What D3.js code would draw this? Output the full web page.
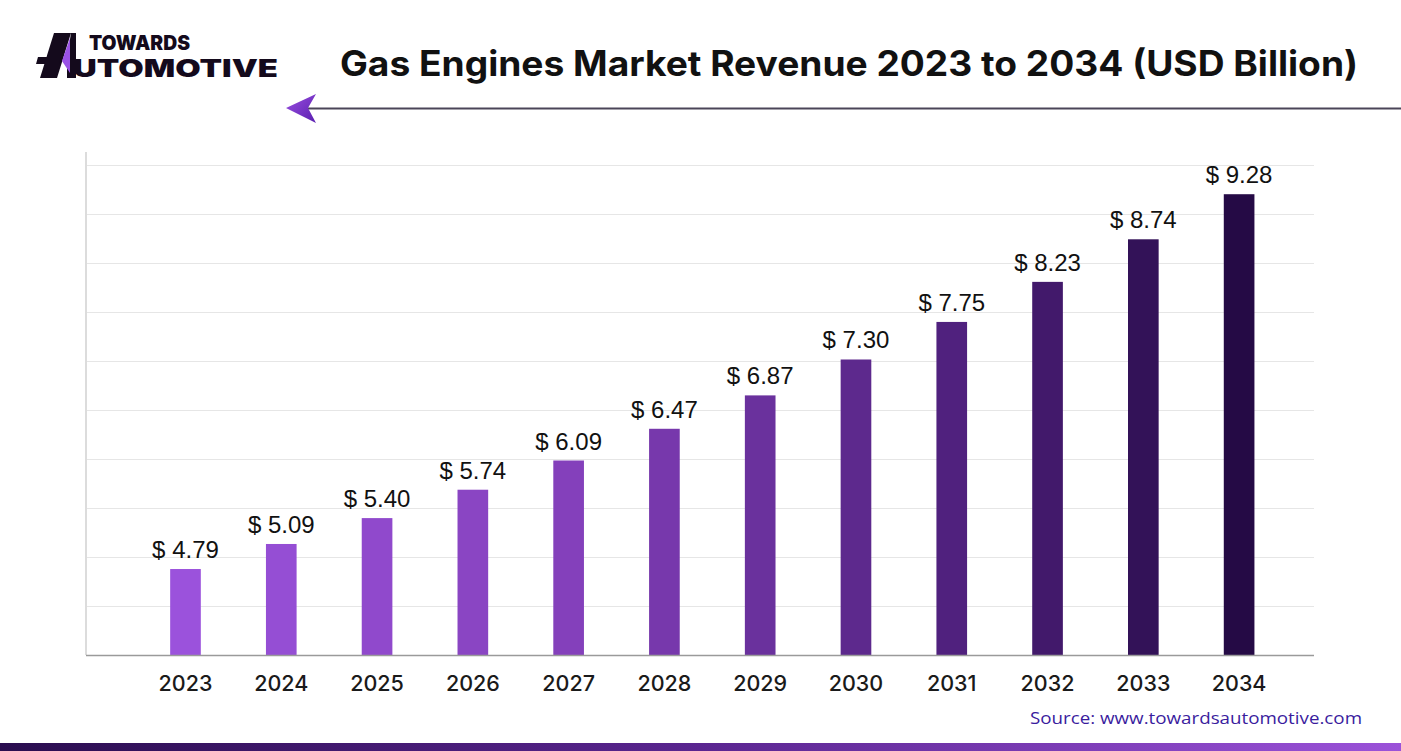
<!DOCTYPE html>
<html><head><meta charset="utf-8">
<script src="https://cdn.jsdelivr.net/npm/d3@7"></script>
<style>html,body{margin:0;padding:0;background:#fff;}svg{display:block;}</style>
</head><body>
<svg id="c" width="1401" height="751"></svg>
<script>
const years = ["2023","2024","2025","2026","2027","2028","2029","2030","2031","2032","2033","2034"];
const revenue = [4.79,5.09,5.40,5.74,6.09,6.47,6.87,7.30,7.75,8.23,8.74,9.28];
const yDomain = [3.76, 9.63];
const title = "Gas Engines Market Revenue 2023 to 2034 (USD Billion)";
const source = "Source: www.towardsautomotive.com";

const svg = d3.select("#c");
const W = 1401, H = 751;
const plot = {left: 86, right: 1314, top: 165, bottom: 655};

const defs = svg.append("defs");
const g1 = defs.append("linearGradient").attr("id","bottomGrad").attr("x1","0").attr("x2","1").attr("y1","0").attr("y2","0");
g1.append("stop").attr("offset","0").attr("stop-color","#2a0d4f");
g1.append("stop").attr("offset","0.5").attr("stop-color","#5a2590");
g1.append("stop").attr("offset","1").attr("stop-color","#9b52d9");
const g2 = defs.append("linearGradient").attr("id","arrowGrad").attr("x1","0").attr("x2","1").attr("y1","0").attr("y2","1");
g2.append("stop").attr("offset","0").attr("stop-color","#9a4fe0");
g2.append("stop").attr("offset","1").attr("stop-color","#5a1fb0");

// Logo
const logo = svg.append("g");
logo.append("polygon").attr("points","54,33 71,33 57,78 40,78").attr("fill","#140a1c");
logo.append("polygon").attr("points","38,57 61,57 59,64 36,64").attr("fill","#140a1c");
logo.append("polygon").attr("points","71,33 76,33 76,78 67,78 67,58").attr("fill","#140a1c");
logo.append("polygon").attr("points","70,38 70,73 62,61").attr("fill","#9a52e6");
logo.append("text").attr("x",89).attr("y",50).attr("font-family","Inter, 'Noto Sans', sans-serif")
  .attr("font-weight",900).attr("font-size",20).attr("fill","#140a1c")
  .attr("textLength",101).attr("lengthAdjust","spacingAndGlyphs").text("TOWARDS");
logo.append("text").attr("x",73).attr("y",77).attr("font-family","Inter, 'Noto Sans', sans-serif")
  .attr("font-weight",900).attr("font-size",24).attr("fill","#140a1c")
  .attr("textLength",205).attr("lengthAdjust","spacingAndGlyphs").text("UTOMOTIVE");

// Title
svg.append("text").attr("x",340).attr("y",76)
  .attr("font-family","Inter, 'Noto Sans', sans-serif").attr("font-weight",700)
  .attr("font-size",35).attr("fill","#111")
  .attr("textLength",1018).attr("lengthAdjust","spacingAndGlyphs").text(title);

// Arrow line
svg.append("line").attr("x1",305).attr("x2",1401).attr("y1",108.5).attr("y2",108.5)
  .attr("stroke","#4b4558").attr("stroke-width",2);
svg.append("polygon").attr("points","286,108 316,94 308,108 316,123").attr("fill","url(#arrowGrad)");

// Scales
const x = d3.scaleBand().domain(years).range([137.6, 1287]).paddingInner(0.68).paddingOuter(0.34);
const y = d3.scaleLinear().domain(yDomain).range([plot.bottom, plot.top]);
const color = d3.scaleLinear().domain([0, 4, 8, 11]).range(["#9b52dc","#8440bb","#50217e","#250a45"]).interpolate(d3.interpolateRgb);

// gridlines
const grid = d3.range(1, 11).map(i => yDomain[0] + i*(yDomain[1]-yDomain[0])/10);
svg.append("g").selectAll("line").data(grid).join("line")
  .attr("x1",plot.left).attr("x2",plot.right)
  .attr("y1",d=>Math.round(y(d))+0.5).attr("y2",d=>Math.round(y(d))+0.5)
  .attr("stroke","#e6e6e6").attr("stroke-width",1.2);

// y axis line
svg.append("line").attr("x1",86).attr("x2",86).attr("y1",152).attr("y2",plot.bottom)
  .attr("stroke","#dcdcdc").attr("stroke-width",2);

// bars
svg.append("g").selectAll("rect").data(revenue).join("rect")
  .attr("x",(d,i)=>x(years[i])).attr("width",x.bandwidth())
  .attr("y",d=>y(d)).attr("height",d=>plot.bottom - y(d))
  .attr("fill",(d,i)=>color(i));

// value labels
svg.append("g").selectAll("text").data(revenue).join("text")
  .attr("x",(d,i)=>x(years[i])+x.bandwidth()/2).attr("y",d=>y(d)-11)
  .attr("text-anchor","middle").attr("font-family","'Liberation Sans', Arial, sans-serif")
  .attr("font-size",24).attr("fill","#111").text(d=>"$ "+d.toFixed(2));

// x axis
const xAxis = svg.append("g").attr("transform",`translate(0,${plot.bottom})`)
  .call(d3.axisBottom(x).tickSize(0).tickPadding(21));
xAxis.select(".domain").remove();
xAxis.append("line").attr("x1",plot.left).attr("x2",plot.right).attr("y1",0.5).attr("y2",0.5)
  .attr("stroke","#9a9a9a").attr("stroke-width",1.5);
xAxis.selectAll(".tick text").attr("font-family","Inter, 'Noto Sans', sans-serif")
  .attr("font-weight",500).attr("font-size",21.5).attr("fill","#1a1a1a");

// source
svg.append("text").attr("x",1030).attr("y",724)
  .attr("font-family","'Open Sans', 'Noto Sans', sans-serif").attr("font-size",17)
  .attr("font-weight",500).attr("fill","#3a1c9e")
  .attr("textLength",332).attr("lengthAdjust","spacingAndGlyphs").text(source);

// bottom bar
svg.append("rect").attr("x",0).attr("y",743).attr("width",W).attr("height",8).attr("fill","url(#bottomGrad)");
</script>
</body></html>
